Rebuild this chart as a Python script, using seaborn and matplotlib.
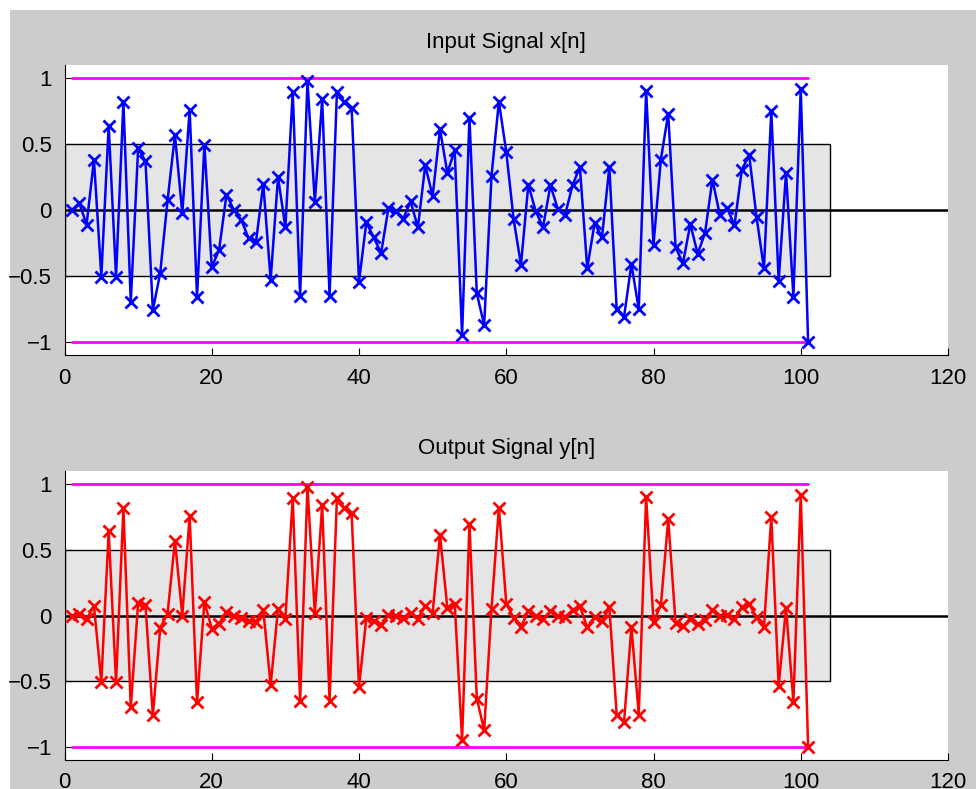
import numpy as np
import pandas as pd
import matplotlib
matplotlib.use("Agg")
import matplotlib.pyplot as plt
from matplotlib.patches import Rectangle
import seaborn as sns

# ---- data ----
n = list(range(1, 102))
x_signal = [0.0, 0.053, -0.11, 0.38, -0.505, 0.64, -0.505, 0.82, -0.70, 0.467,
            0.37, -0.76, -0.477, 0.074, 0.569, -0.023, 0.761, -0.662, 0.495, -0.434,
            -0.302, 0.117, 0.0, -0.074, -0.213, -0.246, 0.198, -0.53, 0.249, -0.132,
            0.896, -0.65, 0.98, 0.061, 0.84, -0.65, 0.896, 0.82, 0.777, -0.543,
            -0.094, -0.208, -0.327, 0.015, -0.01, -0.069, 0.066, -0.132, 0.34, 0.104,
            0.614, 0.282, 0.452, -0.949, 0.70, -0.632, -0.873, 0.261, 0.822, 0.442,
            -0.069, -0.416, 0.193, -0.01, -0.129, 0.188, 0.008, -0.036, 0.188, 0.325,
            -0.442, -0.099, -0.208, 0.325, -0.754, -0.81, -0.41, -0.754, 0.904, -0.264,
            0.383, 0.731, -0.284, -0.404, -0.107, -0.332, -0.175, 0.231, -0.036, 0.015,
            -0.117, 0.307, 0.414, -0.056, -0.442, 0.751, -0.536, 0.282, -0.657, 0.921,
            -1.0]
y_signal = [0.0, 0.015, -0.03, 0.074, -0.505, 0.64, -0.505, 0.82, -0.70, 0.096,
            0.079, -0.76, -0.094, 0.015, 0.569, 0.0, 0.761, -0.662, 0.104, -0.099,
            -0.061, 0.028, 0.0, -0.018, -0.043, -0.048, 0.041, -0.53, 0.053, -0.023,
            0.896, -0.65, 0.98, 0.02, 0.84, -0.65, 0.896, 0.82, 0.777, -0.543,
            -0.018, -0.041, -0.069, 0.003, 0.0, -0.018, 0.02, -0.023, 0.071, 0.02,
            0.614, 0.058, 0.091, -0.949, 0.70, -0.632, -0.873, 0.053, 0.822, 0.091,
            -0.018, -0.086, 0.033, -0.003, -0.03, 0.033, 0.0, -0.01, 0.041, 0.071,
            -0.091, -0.01, -0.041, 0.061, -0.754, -0.81, -0.086, -0.754, 0.904, -0.048,
            0.079, 0.731, -0.056, -0.081, -0.023, -0.066, -0.036, 0.041, 0.0, 0.003,
            -0.023, 0.061, 0.086, -0.015, -0.091, 0.751, -0.536, 0.058, -0.657, 0.921,
            -1.0]
titles = ["Input Signal x[n]", "Output Signal y[n]"]
x_ticks = [0, 20, 40, 60, 80, 100, 120]
y_ticks = [-1, -0.5, 0, 0.5, 1]
y_ticklabels = ["\u22121", "\u22120.5", "0", "0.5", "1"]
band_x = [0, 104]
band_y = [-0.5, 0.5]
limit_x = [1, 101]
limit_levels = [-1, 1]

sns.set_style("white")
plt.rcParams["font.family"] = ["Liberation Sans", "DejaVu Sans"]
plt.rcParams["axes.unicode_minus"] = True
plt.rcParams["text.color"] = "black"

fig = plt.figure(figsize=(9.76, 7.89), dpi=100)
fig.patch.set_facecolor("white")
bg = Rectangle((10 / 976, 0), 1 - 10 / 976, 1 - 10 / 789,
               transform=fig.transFigure, facecolor="#cccccc",
               edgecolor="none", zorder=-10)
fig.patches.append(bg)

positions = [[64.5 / 976, 1 - 355 / 789, (948 - 64.5) / 976, 290 / 789],
             [64.5 / 976, 1 - 760 / 789, (948 - 64.5) / 976, 289 / 789]]
colors = ["#0000ff", "#ff0000"]
series = [x_signal, y_signal]

for pos, title, vals, col in zip(positions, titles, series, colors):
    ax = fig.add_axes(pos)
    ax.set_zorder(1)
    ax.set_facecolor("white")
    ax.add_patch(Rectangle((band_x[0], band_y[0]), band_x[1] - band_x[0], band_y[1] - band_y[0],
                           facecolor="#e5e5e5", edgecolor="black", linewidth=1.0, zorder=1))
    ax.axhline(0, color="black", linewidth=1.8, zorder=2)
    for lv in limit_levels:
        ax.plot(limit_x, [lv, lv], color="#ff00ff", linewidth=2.0, zorder=3)
    df = pd.DataFrame({"n": n, "v": vals})
    sns.lineplot(data=df, x="n", y="v", ax=ax, color=col, marker="x",
                 markersize=8.5, markeredgewidth=2.0, markeredgecolor=col,
                 linewidth=1.8, zorder=4, legend=False)
    ax.set_xlim(0, 120)
    ax.set_ylim(-1.1, 1.1)
    ax.set_xticks(x_ticks)
    ax.set_yticks(y_ticks)
    ax.set_yticklabels(y_ticklabels)
    ax.set_xlabel("")
    ax.set_ylabel("")
    ax.set_title(title, fontsize=16, pad=12, color="black")
    ax.tick_params(direction="in", length=5, width=0.8, colors="black",
                   labelsize=16, pad=9, left=True, bottom=True)
    for s in ["top", "right"]:
        ax.spines[s].set_visible(False)
    for s in ["left", "bottom"]:
        ax.spines[s].set_color("black")
        ax.spines[s].set_linewidth(0.8)

fig.savefig("out.png", dpi=100, facecolor=fig.get_facecolor())
